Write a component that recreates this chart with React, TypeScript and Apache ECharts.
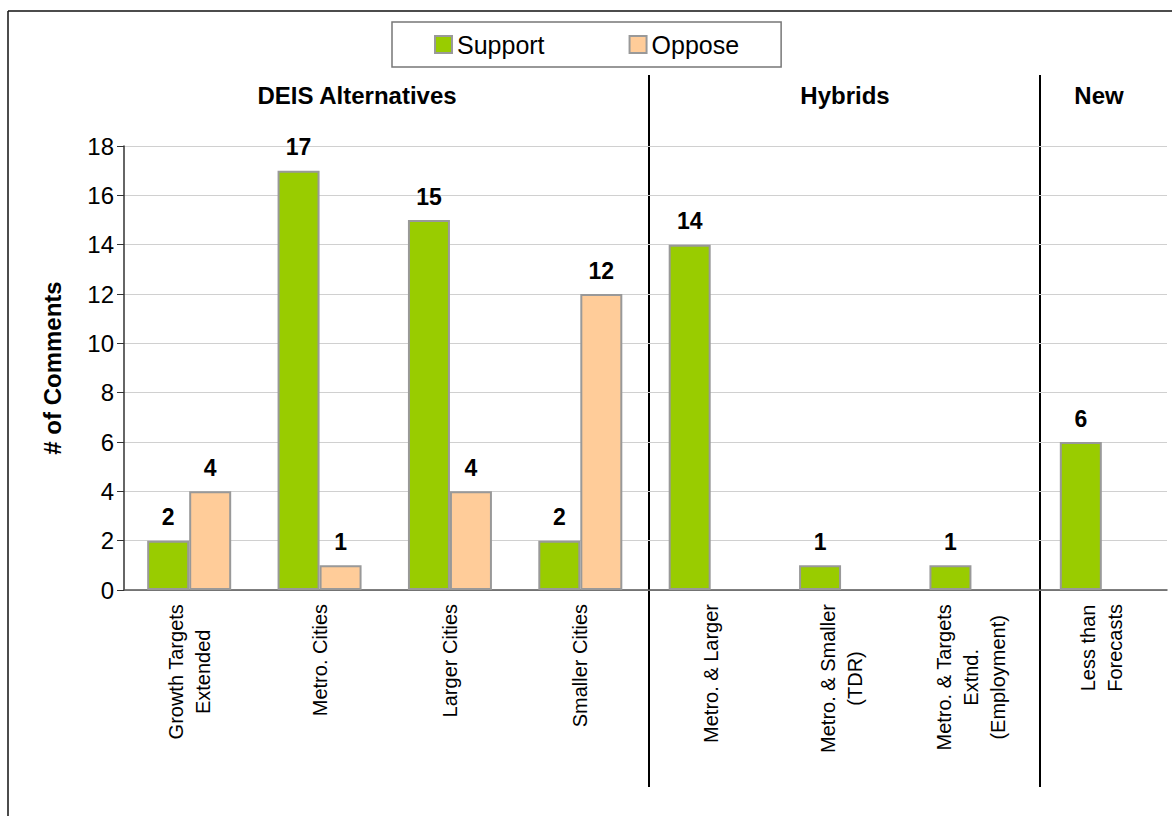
import React, { useEffect, useRef } from "react";
import * as echarts from "echarts";

const categories = [
  "Growth Targets\nExtended",
  "Metro. Cities",
  "Larger Cities",
  "Smaller Cities",
  "Metro. & Larger",
  "Metro. & Smaller\n(TDR)",
  "Metro. & Targets\nExtnd.\n(Employment)",
  "Less than\nForecasts",
];
const supportValues = [2, 17, 15, 2, 14, 1, 1, 6];
const opposeValues: (number | null)[] = [4, 1, 4, 12, null, null, null, null];
const groupTitles = ["DEIS Alternatives", "Hybrids", "New"];

const FONT = "'Liberation Sans', Arial, Helvetica, sans-serif";

export default function App() {
  const ref = useRef<HTMLDivElement>(null);
  useEffect(() => {
    if (!ref.current) return;
    const chart = echarts.init(ref.current, null, { renderer: "svg" });
    const labelStyle = {
      show: true,
      position: "top",
      distance: 12,
      color: "#000",
      fontSize: 23,
      fontWeight: "bold",
      fontFamily: FONT,
    };
    chart.setOption({
      animation: false,
      backgroundColor: "#fff",
      textStyle: { fontFamily: FONT },
      legend: {
        left: 392,
        top: 22,
        padding: [10, 42, 10, 42],
        itemGap: 84,
        itemWidth: 17,
        itemHeight: 17,
        borderColor: "#777",
        borderWidth: 1.5,
        backgroundColor: "#fff",
        textStyle: { fontSize: 25, color: "#000", fontFamily: FONT },
        icon: "rect",
        data: ["Support", "Oppose"],
      },
      grid: { left: 124, right: 5, top: 146, bottom: 226, containLabel: false },
      xAxis: {
        type: "category",
        data: categories,
        axisLine: { lineStyle: { color: "#555", width: 1.5 } },
        axisTick: { show: false },
        axisLabel: {
          interval: 0,
          rotate: 90,
          margin: 14,
          fontSize: 20,
          color: "#000",
          fontFamily: FONT,
          formatter: (v: string) =>
            v
              .split("\n")
              .map((s) => "{c|" + s + "}")
              .join("\n"),
          rich: {
            c: { align: "center", fontSize: 20, lineHeight: 27, color: "#000", fontFamily: FONT },
          },
        },
      },
      yAxis: {
        type: "value",
        min: 0,
        max: 18,
        interval: 2,
        name: "# of Comments",
        nameLocation: "middle",
        nameGap: 60,
        nameTextStyle: { fontSize: 24, fontWeight: "bold", color: "#000", fontFamily: FONT },
        axisLine: { show: true, lineStyle: { color: "#333", width: 1.5 } },
        axisTick: { show: true, length: 7, lineStyle: { color: "#333" } },
        axisLabel: { fontSize: 24, color: "#000", margin: 10, fontFamily: FONT },
        splitLine: { lineStyle: { color: "#d0d0d0", width: 1 } },
      },
      series: [
        {
          name: "Support",
          type: "bar",
          data: supportValues,
          barWidth: 42,
          barGap: "0%",
          itemStyle: { color: "#99CC00", borderColor: "#999", borderWidth: 2 },
          label: labelStyle,
        },
        {
          name: "Oppose",
          type: "bar",
          data: opposeValues,
          barWidth: 42,
          barGap: "0%",
          itemStyle: { color: "#FFCC99", borderColor: "#999", borderWidth: 2 },
          label: labelStyle,
        },
      ],
      graphic: [
        { type: "line", shape: { x1: 8, y1: 11, x2: 8, y2: 816 }, style: { stroke: "#111", lineWidth: 1.5 } },
        { type: "line", shape: { x1: 8, y1: 11, x2: 1172, y2: 11 }, style: { stroke: "#111", lineWidth: 1.5 } },
        { type: "line", shape: { x1: 649, y1: 75, x2: 649, y2: 787 }, style: { stroke: "#000", lineWidth: 2 } },
        { type: "line", shape: { x1: 1040, y1: 75, x2: 1040, y2: 787 }, style: { stroke: "#000", lineWidth: 2 } },
        {
          type: "text",
          x: 357,
          y: 95,
          style: { text: groupTitles[0], fontSize: 24, fontWeight: "bold", fill: "#000", align: "center", verticalAlign: "middle", fontFamily: FONT },
        },
        {
          type: "text",
          x: 845,
          y: 95,
          style: { text: groupTitles[1], fontSize: 24, fontWeight: "bold", fill: "#000", align: "center", verticalAlign: "middle", fontFamily: FONT },
        },
        {
          type: "text",
          x: 1099,
          y: 95,
          style: { text: groupTitles[2], fontSize: 24, fontWeight: "bold", fill: "#000", align: "center", verticalAlign: "middle", fontFamily: FONT },
        },
      ],
    });
    return () => chart.dispose();
  }, []);
  return (
    <div
      ref={ref}
      style={{ position: "absolute", left: 0, top: 0, width: 1172, height: 816 }}
    />
  );
}
